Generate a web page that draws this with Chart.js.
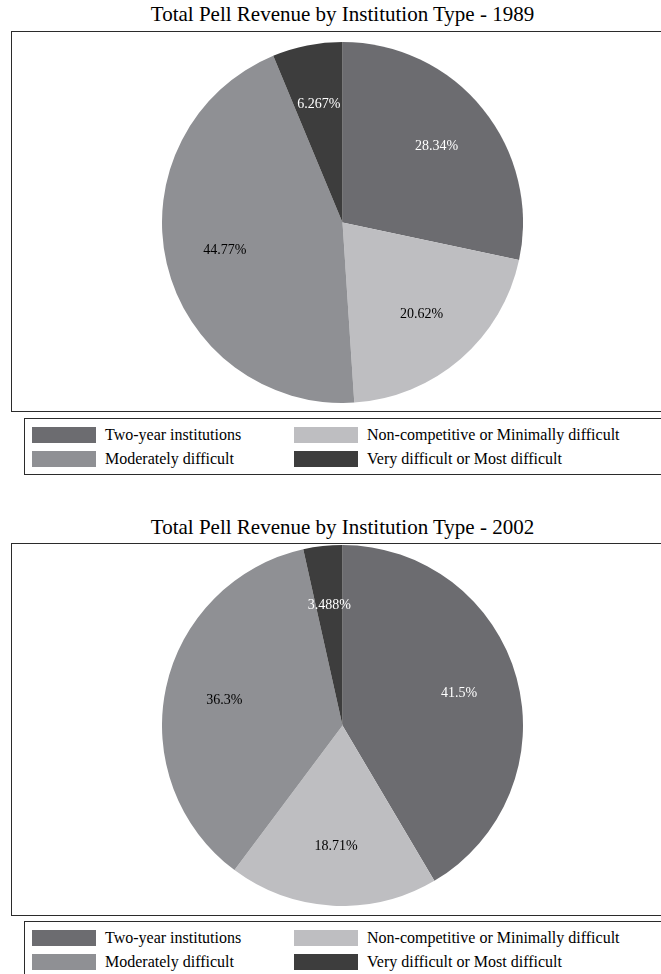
<!DOCTYPE html>
<html>
<head>
<meta charset="utf-8">
<script src="https://cdn.jsdelivr.net/npm/chart.js@4.4.0/dist/chart.umd.min.js"></script>
<style>
  html, body { margin: 0; padding: 0; background: #fff; }
  body { width: 661px; height: 974px; position: relative; overflow: hidden;
         font-family: "Liberation Serif", "DejaVu Serif", serif; color: #000; }
  .title { position: absolute; left: 0; width: 685px; text-align: center; font-size: 21px; line-height: 24px; }
  .frame { position: absolute; left: 11px; width: 670px; border: 1.5px solid #2b2b2b; box-sizing: border-box; }
  .legend { position: absolute; left: 24px; width: 660px; border: 1.5px solid #2b2b2b; box-sizing: border-box; }
  .item { position: absolute; height: 16px; font-size: 16px; line-height: 16px; white-space: nowrap; }
  .item i { position: absolute; left: 0; top: 0; width: 64px; height: 16px; }
  .item span { position: absolute; left: 73px; top: 0; }
  canvas { position: absolute; }
</style>
</head>
<body>
  <div class="title" style="top:2px">Total Pell Revenue by Institution Type - 1989</div>
  <div class="frame" style="top:31px;height:381px"></div>
  <canvas id="pie1989" width="361" height="361" style="left:162px;top:42px"></canvas>
  <div class="legend" id="legend1989" style="top:418px;height:57px"></div>

  <div class="title" style="top:515px">Total Pell Revenue by Institution Type - 2002</div>
  <div class="frame" style="top:543px;height:373px"></div>
  <canvas id="pie2002" width="361" height="361" style="left:162px;top:545px"></canvas>
  <div class="legend" id="legend2002" style="top:921px;height:57px"></div>

<script>
'use strict';

// ── Data ────────────────────────────────────────────────────
const categories = [
  'Two-year institutions',
  'Non-competitive or Minimally difficult',
  'Moderately difficult',
  'Very difficult or Most difficult'
];
const share1989 = [28.34, 20.62, 44.77, 6.267];
const share2002 = [41.5, 18.71, 36.3, 3.488];

const sliceColors = ['#6c6c70', '#bebec1', '#8f9094', '#3d3d3d'];
const labelColors = ['#fff', '#000', '#000', '#fff'];

// percent labels drawn inside each slice
const sliceLabels = {
  id: 'sliceLabels',
  afterDatasetsDraw(chart) {
    const ctx = chart.ctx;
    const ds = chart.data.datasets[0];
    const meta = chart.getDatasetMeta(0);
    ctx.save();
    ctx.font = '14px "Liberation Serif", "DejaVu Serif", serif';
    ctx.textAlign = 'center';
    ctx.textBaseline = 'middle';
    meta.data.forEach((arc, i) => {
      const p = arc.getProps(['x', 'y', 'startAngle', 'endAngle', 'outerRadius'], true);
      const mid = (p.startAngle + p.endAngle) / 2;
      const r = p.outerRadius * 0.67;
      ctx.fillStyle = labelColors[i];
      ctx.fillText(Number(ds.data[i].toPrecision(4)) + '%', p.x + Math.cos(mid) * r, p.y + Math.sin(mid) * r);
    });
    ctx.restore();
  }
};

function renderPie(canvasId, data) {
  const ctx = document.getElementById(canvasId).getContext('2d');
  return new Chart(ctx, {
    type: 'pie',
    data: {
      labels: categories,
      datasets: [{
        data,
        backgroundColor: sliceColors,
        borderWidth: 0
      }]
    },
    options: {
      responsive: false,
      animation: false,
      layout: { padding: 0 },
      plugins: {
        legend: { display: false },
        tooltip: { enabled: false }
      }
    },
    plugins: [sliceLabels]
  });
}

// two-column legend, row by row
function renderLegend(boxId) {
  const box = document.getElementById(boxId);
  categories.forEach((name, n) => {
    const col = n % 2, row = Math.floor(n / 2);
    const el = document.createElement('div');
    el.className = 'item';
    el.style.left = (7 + col * 262) + 'px';
    el.style.top = (7.5 + row * 24) + 'px';
    el.innerHTML = `<i style="background:${sliceColors[n]}"></i><span>${name}</span>`;
    box.appendChild(el);
  });
}

renderPie('pie1989', share1989);
renderPie('pie2002', share2002);
renderLegend('legend1989');
renderLegend('legend2002');
</script>
</body>
</html>
